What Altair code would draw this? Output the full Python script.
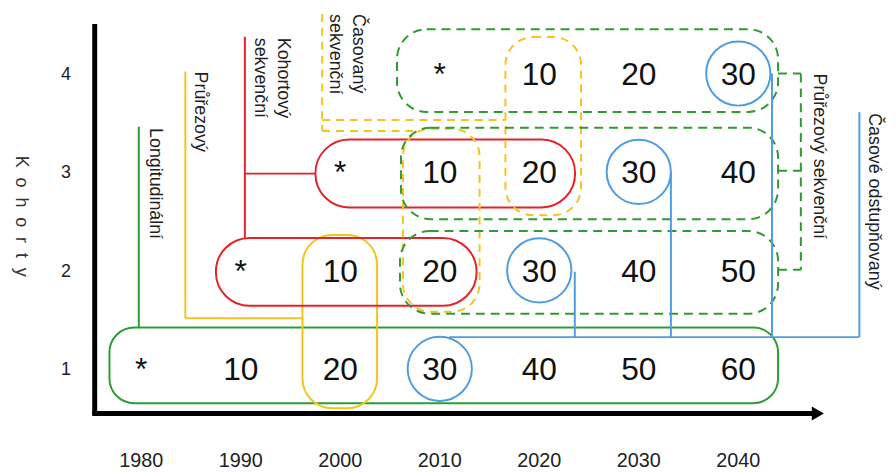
import altair as alt
import pandas as pd

# ---------------- chart values ----------------
YEARS = [1980, 1990, 2000, 2010, 2020, 2030, 2040]
COHORTS = [1, 2, 3, 4]
COHORT_BIRTH = [1980, 1990, 2000, 2010]
ROW_1 = ["*", "10", "20", "30", "40", "50", "60"]
ROW_2 = ["*", "10", "20", "30", "40", "50"]
ROW_3 = ["*", "10", "20", "30", "40"]
ROW_4 = ["*", "10", "20", "30"]
ROWS = [ROW_1, ROW_2, ROW_3, ROW_4]
CIRCLED_YEARS = [2010, 2020, 2030, 2040]
CIRCLED_COHORTS = [1, 2, 3, 4]
Y_TITLE = "K\u00a0\u00a0o\u00a0\u00a0h\u00a0\u00a0o\u00a0\u00a0r\u00a0\u00a0t\u00a0\u00a0y"
DESIGN_LABELS = ["Longitudinální", "Průřezový", "Kohortový", "sekvenční",
                 "Časovaný", "sekvenční", "Průřezový sekvenční", "Časové odstupňovaný"]

# ---------------- diagram geometry (year / cohort units) ----------------
X_DOMAIN = [1966.604, 2055.050]
Y_DOMAIN = [-0.0168, 4.6444]
W, H = 888, 463
LABEL_Y = 0.064      # cohort-units position of year labels
LABEL_X = 1972.43    # year-units position of cohort labels
TITLE_POS = (1967.90, 2.55)
LABEL_POS = [(1980.85, 3.446), (1985.43, 4.020), (1993.70, 4.363), (1991.40, 4.363),
             (2001.27, 4.604), (1998.98, 4.604), (2047.58, 4.000), (2053.16, 3.597)]

GREEN = "#2f9b33"
RED = "#e3222a"
YELLOW = "#f2c41e"
BLUE = "#4e9de0"
BLACK = "#000000"
FONT = "Liberation Sans"

# boxes: x0, x1, y0, y1, colour, dashed, corner radius
BOXES = [
    (1976.8, 2044.0, 0.65, 1.42, GREEN, False, 25),
    (1996.2, 2003.7, 0.60, 2.36, YELLOW, False, 30),
    (1987.5, 2013.7, 1.64, 2.33, RED, False, 34),
    (1997.5, 2023.6, 2.64, 3.33, RED, False, 34),
    (2006.3, 2014.0, 1.58, 3.44, YELLOW, True, 28),
    (2016.6, 2024.2, 2.56, 4.37, YELLOW, True, 28),
    (2005.7, 2044.0, 3.61, 4.45, GREEN, True, 30),
    (2006.1, 2044.0, 2.52, 3.45, GREEN, True, 30),
    (2006.0, 2044.0, 1.56, 2.40, GREEN, True, 30),
]

# segments: x, y, x2, y2, colour, dashed, width
SEGMENTS = [
    (1979.75, 3.46, 1979.75, 1.42, GREEN, False, 2),
    (1984.43, 4.02, 1984.43, 1.513, YELLOW, False, 2),
    (1984.43, 1.513, 1996.2, 1.513, YELLOW, False, 2),
    (1990.41, 4.373, 1990.41, 2.33, RED, False, 2),
    (1990.41, 2.983, 1997.5, 2.983, RED, False, 2),
    (1998.18, 4.604, 1998.18, 3.416, YELLOW, True, 2),
    (1998.18, 3.527, 2016.6, 3.527, YELLOW, True, 2),
    (1998.18, 3.416, 2007.34, 3.416, YELLOW, True, 2),
    (2046.29, 4.0, 2046.29, 2.007, GREEN, True, 2),
    (2044.0, 4.0, 2046.29, 4.0, GREEN, True, 2),
    (2044.0, 3.013, 2046.29, 3.013, GREEN, True, 2),
    (2044.0, 2.007, 2046.29, 2.007, GREEN, True, 2),
    (2023.57, 1.987, 2023.57, 1.322, BLUE, False, 2),
    (2033.23, 2.993, 2033.23, 1.322, BLUE, False, 2),
    (2043.39, 4.0, 2043.39, 1.322, BLUE, False, 2),
    (2010.93, 1.322, 2052.17, 1.322, BLUE, False, 2),
    (2052.17, 1.322, 2052.17, 3.607, BLUE, False, 2),
    (1975.32, 4.503, 1975.32, 0.53, BLACK, False, 5),
    (1975.07, 0.547, 2047.7, 0.547, BLACK, False, 5),
]
ARROW_POS = (2048.0, 0.547)


def X(field, f2=None):
    return alt.X(field, type="quantitative",
                 scale=alt.Scale(domain=X_DOMAIN, nice=False, zero=False), axis=None)


def Y(field):
    return alt.Y(field, type="quantitative",
                 scale=alt.Scale(domain=Y_DOMAIN, nice=False, zero=False), axis=None)


layers = []

# boxes
for (x0, x1, y0, y1, col, dashed, rad) in BOXES:
    df = pd.DataFrame({"x": [x0], "x2": [x1], "y": [y0], "y2": [y1]})
    kw = dict(fill=None, fillOpacity=0, stroke=col, strokeWidth=2, cornerRadius=rad)
    if dashed:
        kw["strokeDash"] = [9, 6] if col == GREEN else [8, 6]
    layers.append(alt.Chart(df).mark_rect(**kw).encode(
        x=X("x"), x2="x2", y=Y("y"), y2="y2"))

# circles (time-lag design)
circ = pd.DataFrame({"x": CIRCLED_YEARS, "y": CIRCLED_COHORTS})
layers.append(alt.Chart(circ).mark_point(shape="circle", filled=False, size=4200,
                                          stroke=BLUE, strokeWidth=2, opacity=1).encode(
    x=X("x"), y=Y("y")))

# segments
for (x, y, x2, y2, col, dashed, wdt) in SEGMENTS:
    df = pd.DataFrame({"x": [x], "y": [y], "x2": [x2], "y2": [y2]})
    kw = dict(color=col, strokeWidth=wdt)
    if dashed:
        kw["strokeDash"] = [9, 6] if col == GREEN else [8, 6]
    layers.append(alt.Chart(df).mark_rule(**kw).encode(
        x=X("x"), y=Y("y"), x2="x2", y2="y2"))

# arrow head
arrow = pd.DataFrame({"x": [ARROW_POS[0]], "y": [ARROW_POS[1]]})
layers.append(alt.Chart(arrow).mark_point(shape="triangle-right", filled=True, size=200,
                                           color=BLACK, opacity=1).encode(
    x=X("x"), y=Y("y")))

# cell values
cx, cy, ct = [], [], []
for i, row in enumerate(ROWS):
    for j, t in enumerate(row):
        cx.append(COHORT_BIRTH[i] + 10 * j)
        cy.append(COHORTS[i])
        ct.append(t)
cells = pd.DataFrame({"x": cx, "y": cy, "t": ct})
layers.append(alt.Chart(cells).mark_text(fontSize=32, font=FONT, color="#111",
                                         baseline="middle", align="center", dy=1.5).encode(
    x=X("x"), y=Y("y"), text="t:N"))

# year labels
yl = pd.DataFrame({"x": YEARS, "y": [LABEL_Y] * len(YEARS), "t": [str(v) for v in YEARS]})
layers.append(alt.Chart(yl).mark_text(fontSize=20, font=FONT, color="#222",
                                      baseline="middle", align="center").encode(
    x=X("x"), y=Y("y"), text="t:N"))

# cohort labels
cl = pd.DataFrame({"x": [LABEL_X] * len(COHORTS), "y": COHORTS, "t": [str(v) for v in COHORTS]})
layers.append(alt.Chart(cl).mark_text(fontSize=18, font=FONT, color="#222",
                                      baseline="middle", align="center", dy=1.5).encode(
    x=X("x"), y=Y("y"), text="t:N"))

# y title
tt = pd.DataFrame({"x": [TITLE_POS[0]], "y": [TITLE_POS[1]], "t": [Y_TITLE]})
layers.append(alt.Chart(tt).mark_text(fontSize=18, font=FONT, color="#333", angle=90,
                                      baseline="middle", align="center").encode(
    x=X("x"), y=Y("y"), text="t:N"))

# rotated design labels
dl = pd.DataFrame({"x": [p[0] for p in LABEL_POS], "y": [p[1] for p in LABEL_POS],
                   "t": DESIGN_LABELS})
layers.append(alt.Chart(dl).mark_text(fontSize=18, font=FONT, color="#222", angle=90,
                                      baseline="alphabetic", align="left").encode(
    x=X("x"), y=Y("y"), text="t:N"))

chart = alt.layer(*layers).properties(
    width=W, height=H, padding=0,
    autosize=alt.AutoSizeParams(type="none"),
    background="white",
).configure_view(stroke=None)

chart.save("out.html", embed_options={"renderer": "svg", "actions": False})
